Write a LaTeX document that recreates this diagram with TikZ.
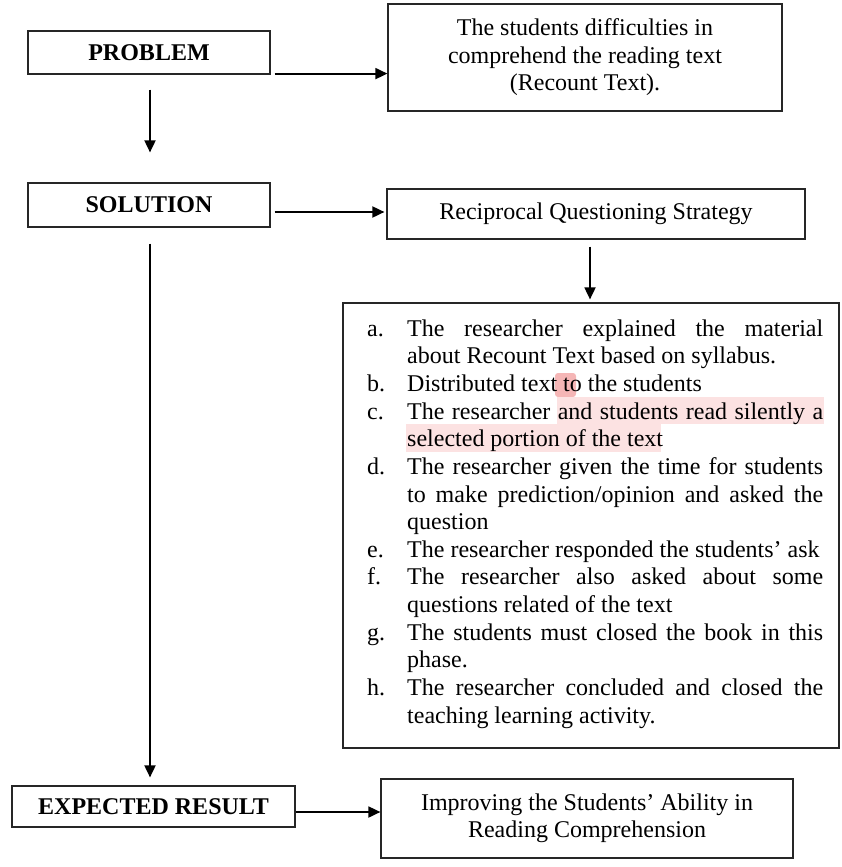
\documentclass[tikz,border=0pt]{standalone}
\usepackage{fontspec}
\setmainfont{Liberation Serif}
\usetikzlibrary{arrows.meta,calc}
\definecolor{hlight}{RGB}{252,226,226}
\definecolor{hdark}{RGB}{245,182,182}
\newcommand{\stepitem}[2]{\noindent\hangindent=40pt\hangafter=1\makebox[40pt][l]{#1}#2\par}
\begin{document}
\begin{tikzpicture}[x=1pt,y=-1pt,
  font=\fontsize{24}{27.5}\selectfont,
  box/.style={draw=black!85, line width=1.2pt, inner sep=0pt, align=center, rectangle},
  arr/.style={line width=1.8pt, -{Triangle[length=12pt,width=11pt]}}]
\useasboundingbox (0,0) rectangle (841,867);

% boxes
\node[box, minimum width=242pt, minimum height=43pt] (prob) at (149,52.5) {\bfseries PROBLEM};
\node[box, minimum width=394pt, minimum height=107pt] (diff) at (585,57.5)
  {The students difficulties in\\comprehend the reading text\\(Recount Text).};
\node[box, minimum width=242pt, minimum height=44pt] (sol) at (149,205) {\bfseries SOLUTION};
\node[box, minimum width=418pt, minimum height=50pt] (rqs) at (596,214) {Reciprocal Questioning Strategy};
\node[box, minimum width=496pt, minimum height=445pt] (steps) at (591,525.5) {};
\node[box, minimum width=283pt, minimum height=41pt] (exp) at (153.5,806.5) {\bfseries EXPECTED RESULT};
\node[box, minimum width=412pt, minimum height=79pt] (imp) at (587,818.5)
  {Improving the Students’ Ability in\\Reading Comprehension};

% highlights
\fill[hdark, rounded corners=3pt] (555,373) rectangle (576,397);
\fill[hlight] (557,397) rectangle (824,424);
\fill[hlight] (406,424) rectangle (661,452);

% list text
\node[anchor=north west, inner sep=0pt, text width=456pt] (list) at (367,316) {%
\fontsize{24}{27.64}\selectfont\tolerance=9000\hbadness=10000\parindent=0pt\parskip=0pt
\leftskip=0pt\rightskip=0pt\parfillskip=0pt plus 1fil
\spaceskip=6pt plus 14pt minus 2.4pt\xspaceskip=\spaceskip
\stepitem{a.}{\rule{0pt}{20pt}The researcher explained the material\linebreak about Recount Text based on syllabus.}
\stepitem{b.}{Distributed text to the students}
\stepitem{c.}{The researcher and students read silently a\linebreak selected portion of the text}
\stepitem{d.}{The researcher given the time for students\linebreak to make prediction/opinion and asked the\linebreak question}
\stepitem{e.}{The researcher responded the students’ ask}
\stepitem{f.}{The researcher also asked about some\linebreak questions related of the text}
\stepitem{g.}{The students must closed the book in this\linebreak phase.}
\stepitem{h.}{The researcher concluded and closed the\linebreak teaching learning activity.}
};

% connectors
\draw[arr] ([xshift=4pt,yshift=1pt]prob.south east) coordinate (p1) -- (p1 -| diff.west);
\draw[arr, shorten <=15pt, shorten >=30pt] ([xshift=1pt]prob.south) -- ([xshift=1pt]sol.north);
\draw[arr] ([xshift=4pt,yshift=-7pt]sol.east) coordinate (p2) -- ([xshift=-2pt]p2 -| rqs.west);
\draw[arr, shorten <=7pt, shorten >=3pt] ([xshift=-6pt]rqs.south) coordinate (p3) -- (p3 |- steps.north);
\draw[arr, shorten <=16pt, shorten >=8pt] ([xshift=1pt]sol.south) coordinate (p4) -- (p4 |- exp.north);
\draw[arr] ([yshift=-5.5pt]exp.east) coordinate (p5) -- (p5 -| imp.west);
\end{tikzpicture}
\end{document}
